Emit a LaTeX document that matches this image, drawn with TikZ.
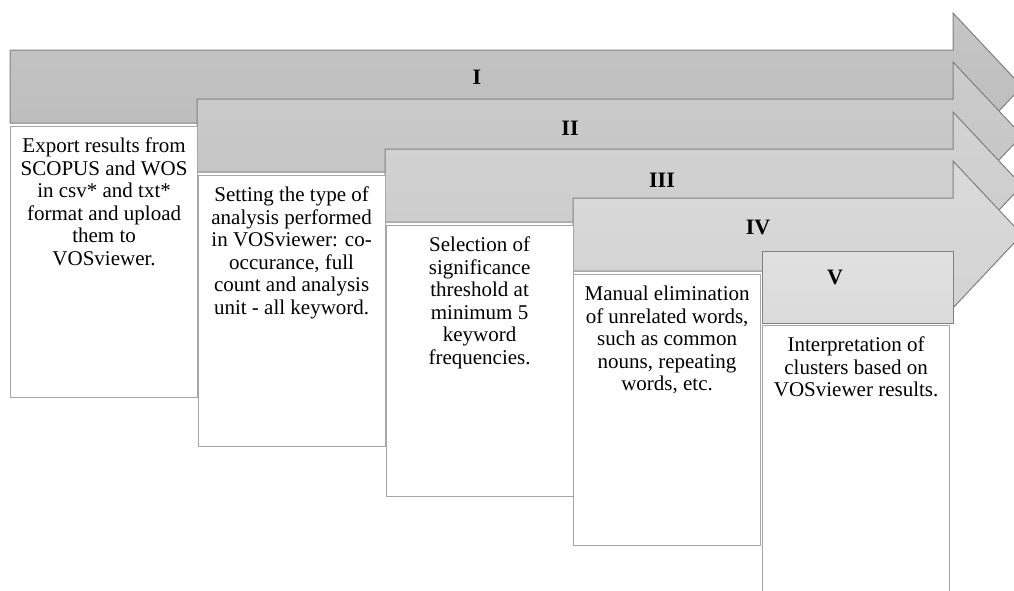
\documentclass[tikz,border=0pt]{standalone}
\usepackage{fontspec}
\setmainfont{Liberation Serif}
\usetikzlibrary{positioning}

\definecolor{stageI}{HTML}{BBBBBB}
\definecolor{stageII}{HTML}{C3C3C3}
\definecolor{stageIII}{HTML}{CBCBCB}
\definecolor{stageIV}{HTML}{D3D3D3}
\definecolor{stageV}{HTML}{DBDBDB}

\tikzset{
  arrowline/.style={draw=black!50, line width=1pt},
  stepbox/.style={draw=black!35, line width=1.2pt, fill=white, anchor=north west,
    minimum width=187pt, minimum height=271pt, inner sep=0pt},
  steptext/.style={anchor=north, align=center, inner sep=0pt,
    font=\fontsize{21}{22.5}\selectfont},
  steplabel/.style={inner sep=0pt, font=\fontsize{22}{24}\selectfont\bfseries}
}

\begin{document}
\begin{tikzpicture}[x=1pt, y=-1pt]
  \clip (0,0) rectangle (1014,590);
  % stage arrows, all heads at the same place
  \foreach \l/\t/\c in {10/50/I, 197/99/II, 385/149/III, 573/198/IV}
    \draw[arrowline, top color=stage\c!85!white, bottom color=stage\c]
      (\l,\t) -- (953,\t) -- (953,\t-37) -- (1022,\t+36.5)
      -- (953,\t+110) -- (953,\t+73) -- (\l,\t+73) -- cycle;
  \draw[arrowline, top color=stageV!85!white, bottom color=stageV]
    (762,251) rectangle (953,323);

  \node[steplabel] (lab1) at (477,77) {I};
  \node[steplabel] (lab2) at (570,128) {II};
  \node[steplabel] (lab3) at (662,180) {III};
  \node[steplabel] (lab4) at (758,227) {IV};
  \node[steplabel] (lab5) at (835,277) {V};

  % text boxes
  \node[stepbox] (box1) at (10,126) {};
  \node[stepbox] (box2) at (197.5,175) {};
  \node[stepbox] (box3) at (385.5,225) {};
  \node[stepbox] (box4) at (573,274) {};
  \node[stepbox] (box5) at (762,325) {};

  \node[steptext, below=12pt of box1.north] (txt1)
    {Export results from\\SCOPUS and WOS\\in csv* and txt*\\format and upload\\them to\\VOSviewer.};
  \node[steptext, below=12pt of box2.north] (txt2)
    {Setting the type of\\analysis performed\\in VOSviewer: co-\\occurance, full\\count and analysis\\unit - all keyword.};
  \node[steptext, below=12pt of box3.north] (txt3)
    {Selection of\\significance\\threshold at\\minimum 5\\keyword\\frequencies.};
  \node[steptext, below=12pt of box4.north] (txt4)
    {Manual elimination\\of unrelated words,\\such as common\\nouns, repeating\\words, etc.};
  \node[steptext, below=12pt of box5.north] (txt5)
    {Interpretation of\\clusters based on\\VOSviewer results.};
\end{tikzpicture}
\end{document}
